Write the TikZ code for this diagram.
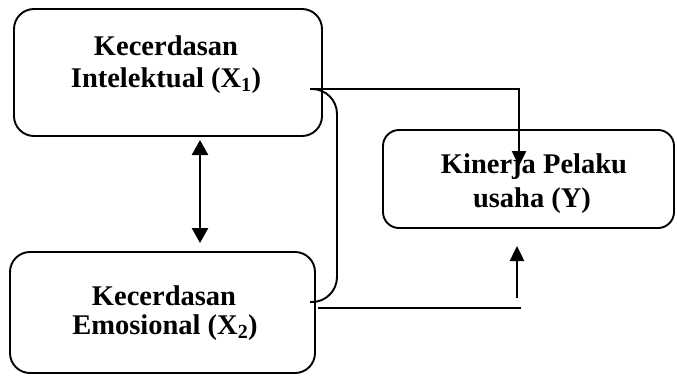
\documentclass[tikz,border=0pt]{standalone}
\usepackage{fontspec}
\setmainfont{Liberation Serif}
\usetikzlibrary{arrows.meta}
\begin{document}
\begin{tikzpicture}[x=1pt,y=-1pt,
  box/.style={draw, line width=1.9pt, rounded corners=20pt, inner sep=0pt},
  lbl/.style={anchor=base, inner sep=0pt, font=\fontsize{28.5}{32}\selectfont\bfseries},
  conn/.style={line width=1.9pt},
  arr/.style={line width=2.5pt, -{Triangle[length=15pt,width=14pt]}},
  darr/.style={line width=2.5pt, {Triangle[length=15pt,width=16pt]}-{Triangle[length=15pt,width=16pt]}}]
\useasboundingbox (0,0) rectangle (677,375);
% boxes
\node[box, minimum width=308pt, minimum height=127pt] (X1) at (168,72.5) {};
\node[box, minimum width=305pt, minimum height=121pt] (X2) at (162.5,312.5) {};
\node[box, rounded corners=16pt, minimum width=291pt, minimum height=98pt] (Y) at (528.5,179) {};
% texts
\node[lbl] (t1a) at (166,55) {Kecerdasan};
\node[lbl] (t1b) at (166,87) {Intelektual (X\textsubscript{1})};
\node[lbl] (t2a) at (164,305) {Kecerdasan};
\node[lbl] (t2b) at (165,334) {Emosional (X\textsubscript{2})};
\node[lbl] (t3a) at (534,173) {Kinerja Pelaku};
\node[lbl] (t3b) at (532,207) {usaha (Y)};
% connector points
\coordinate (a1) at (310,89);
\coordinate (a2) at (518,89);
\coordinate (a3) at (519,166);
\coordinate (b1) at (310,302);
\coordinate (c1) at (318,308);
\coordinate (c2) at (521,308);
\coordinate (d1) at (517,298);
\coordinate (d2) at (517,246);
\coordinate (e1) at (200,140);
\coordinate (e2) at (200,243);
% connectors
\draw[conn] (a1) -- (a2);
\draw[arr] (519,88) -- (a3);
\draw[conn, rounded corners=25pt] (a1) -- (337,89) -- (337,302) -- (b1);
\draw[conn] (c1) -- (c2);
\draw[arr] (d1) -- (d2);
\draw[darr] (e1) -- (e2);
\end{tikzpicture}
\end{document}
